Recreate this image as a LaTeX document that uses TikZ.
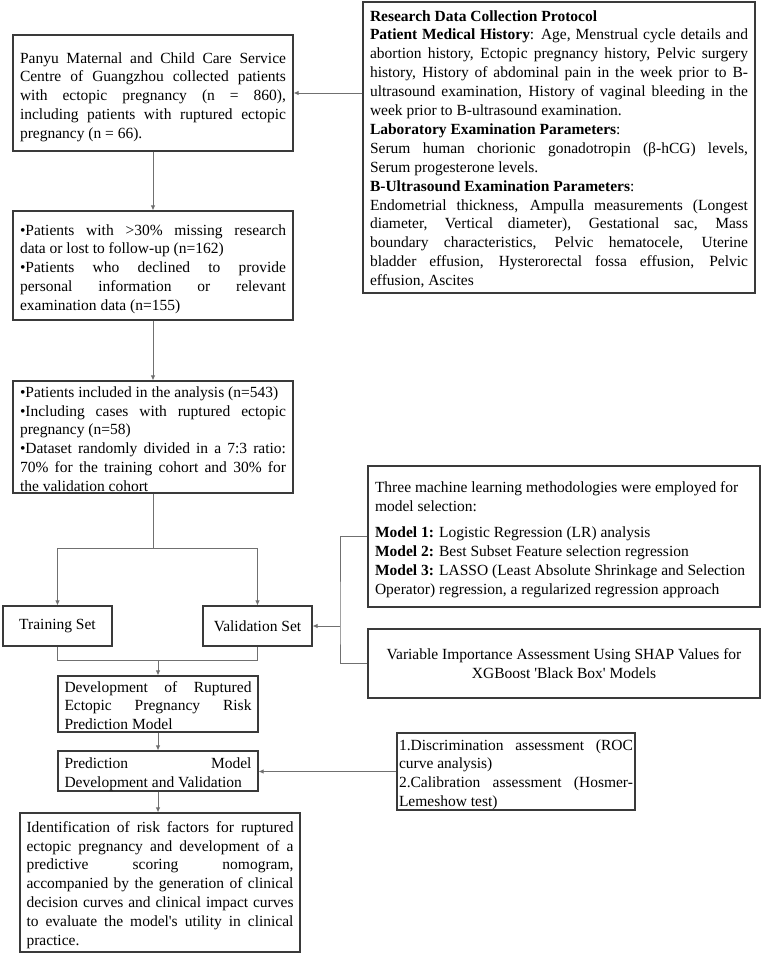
\documentclass[tikz,border=0pt]{standalone}
\usepackage{fontspec}
\setmainfont{Liberation Serif}
\usetikzlibrary{arrows.meta}
\newcommand\Js[2]{\makebox[#1][s]{\spaceskip=0pt\xspaceskip=0pt #2}}
\definecolor{boxc}{HTML}{3A3A3A}
\definecolor{linec}{HTML}{707070}
\begin{document}
\begin{tikzpicture}[x=1pt,y=-1pt,
  box/.style={draw=boxc, line width=1.1pt, inner sep=0pt, align=justify,
    font=\fontsize{15.5}{18.9}\selectfont},
  top/.style={execute at begin node={\rule{0pt}{#1}}},
  conn/.style={draw=linec, line width=0.9pt},
  arr/.style={conn, -{Latex[length=5pt,width=4.5pt]}}]
\fill[white] (0,0) rectangle (764,955);
\useasboundingbox (0,0) rectangle (764,955);

\node[box, top=19pt, minimum width=280pt, minimum height=116pt, text width=266pt] (A) at (153,93) {%
\Js{266pt}{Panyu Maternal and Child Care Service}\\
\Js{266pt}{Centre of Guangzhou collected patients}\\
\Js{266pt}{with ectopic pregnancy (n = 860),}\\
\Js{266pt}{including patients with ruptured ectopic}\\
pregnancy (n = 66).};

\node[box, top=14pt, minimum width=392pt, minimum height=291pt, text width=378pt] (R) at (559,147.5) {%
\textbf{Research Data Collection Protocol}\\
\Js{378pt}{\textbf{Patient Medical History}: Age, Menstrual cycle details and}\\
\Js{378pt}{abortion history, Ectopic pregnancy history, Pelvic surgery}\\
\Js{378pt}{history, History of abdominal pain in the week prior to B-}\\
\Js{378pt}{ultrasound examination, History of vaginal bleeding in the}\\
week prior to B-ultrasound examination.\\
\textbf{Laboratory Examination Parameters}:\\
\Js{378pt}{Serum human chorionic gonadotropin (β-hCG) levels,}\\
Serum progesterone levels.\\
\textbf{B-Ultrasound Examination Parameters}:\\
\Js{378pt}{Endometrial thickness, Ampulla measurements (Longest}\\
\Js{378pt}{diameter, Vertical diameter), Gestational sac, Mass}\\
\Js{378pt}{boundary characteristics, Pelvic hematocele, Uterine}\\
\Js{378pt}{bladder effusion, Hysterorectal fossa effusion, Pelvic}\\
effusion, Ascites};

\node[box, top=18pt, minimum width=280pt, minimum height=109pt, text width=266pt] (B) at (153,265.5) {%
\Js{266pt}{•Patients with >30\% missing research}\\
data or lost to follow-up (n=162)\\
\Js{266pt}{•Patients who declined to provide}\\
\Js{266pt}{personal information or relevant}\\
examination data (n=155)};

\node[box, top=15pt, minimum width=280pt, minimum height=112pt, text width=266pt] (C) at (153,437) {%
•Patients included in the analysis (n=543)\\
\Js{266pt}{•Including cases with ruptured ectopic}\\
pregnancy (n=58)\\
\Js{266pt}{•Dataset randomly divided in a 7:3 ratio:}\\
\Js{266pt}{70\% for the training cohort and 30\% for}\\
the validation cohort};

\node[box, align=center, minimum width=109pt, minimum height=40pt] (T) at (57.5,626) {Training Set};
\node[box, align=center, minimum width=109pt, minimum height=40pt] (V) at (257.5,626) {Validation Set};

\node[box, top=14pt, minimum width=200pt, minimum height=56pt, text width=187pt] (D) at (158,704) {%
\Js{187pt}{Development of Ruptured}\\
\Js{187pt}{Ectopic Pregnancy Risk}\\
Prediction Model};

\node[box, top=17pt, minimum width=200pt, minimum height=40pt, text width=187pt] (P) at (158,771) {%
\Js{187pt}{Prediction Model}\\
Development and Validation};

\node[box, top=16pt, minimum width=280pt, minimum height=139pt, text width=267pt] (F) at (160,882.5) {%
\Js{267pt}{Identification of risk factors for ruptured}\\
\Js{267pt}{ectopic pregnancy and development of a}\\
\Js{267pt}{predictive scoring nomogram,}\\
\Js{267pt}{accompanied by the generation of clinical}\\
\Js{267pt}{decision curves and clinical impact curves}\\
\Js{267pt}{to evaluate the model\textquotesingle s utility in clinical}\\
practice.};

\node[box, top=17pt, minimum width=392pt, minimum height=141pt, text width=378pt] (M) at (564,536.5) {%
Three machine learning methodologies were employed for\\
model selection:\\[7pt]
\textbf{Model 1:} Logistic Regression (LR) analysis\\
\textbf{Model 2:} Best Subset Feature selection regression\\
\textbf{Model 3:} LASSO (Least Absolute Shrinkage and Selection\\
Operator) regression, a regularized regression approach};

\node[box, align=center, minimum width=392pt, minimum height=69pt] (S) at (564,663.5) {%
Variable Importance Assessment Using SHAP Values for\\
XGBoost \textquotesingle Black Box\textquotesingle{} Models};

\node[box, top=17pt, minimum width=238pt, minimum height=77pt, text width=234pt] (E) at (516,771.5) {%
\Js{234pt}{1.Discrimination assessment (ROC}\\
curve analysis)\\
\Js{234pt}{2.Calibration assessment (Hosmer-}\\
Lemeshow test)};

% connectors
\draw[arr] (R.west |- A.east) -- (A.east);
\draw[arr] (A.south) -- (B.north);
\draw[arr] (B.south) -- (C.north);
\coordinate (split) at (153,548);
\draw[conn] (C.south) -- (split);
\draw[arr] (split) -| (T.north);
\draw[arr] (split) -| (V.north);
\coordinate (join) at (158,660);
\draw[conn] (T.south) |- (join);
\draw[conn] (V.south) |- (join);
\draw[arr] (join) -- (D.north);
\draw[arr] (D.south) -- (P.north);
\draw[arr] (P.south) -- (P.south |- F.north);
\coordinate (bx) at (340,626);
\draw[conn] (M.west) -| (bx) |- (S.west);
\draw[arr] (bx) -- (V.east);
\draw[arr] (E.west) -- (E.west -| P.east);
\end{tikzpicture}
\end{document}
